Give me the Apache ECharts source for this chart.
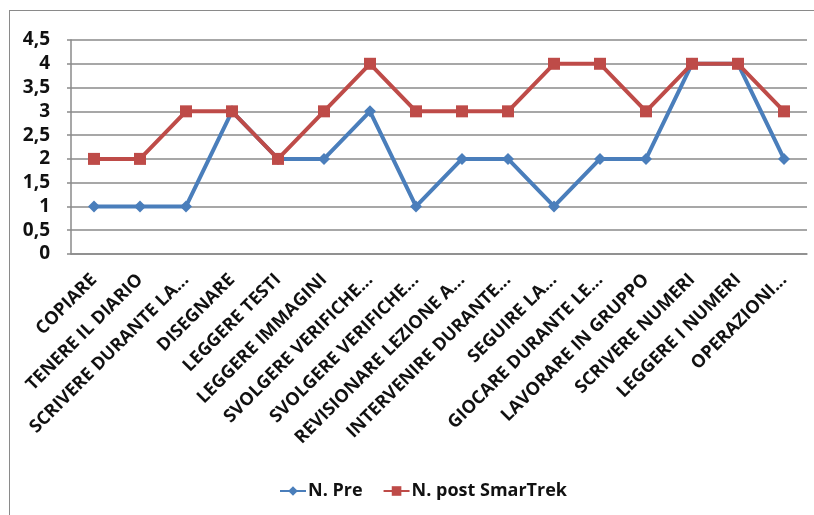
<!DOCTYPE html>
<html>
<head>
<meta charset="utf-8">
<script src="https://cdn.jsdelivr.net/npm/echarts@6/dist/echarts.min.js"></script>
<style>
html,body{margin:0;padding:0;background:#fff;}
#frame{position:absolute;left:9px;top:10px;width:820px;height:520px;border-left:1.5px solid #8a8a8a;border-top:1.5px solid #8a8a8a;}
#chart{position:absolute;left:0;top:0;width:814px;height:515px;}
</style>
</head>
<body>
<div id="frame"></div>
<div id="chart"></div>
<script>
const categories = ["COPIARE","TENERE IL DIARIO","SCRIVERE DURANTE LA...","DISEGNARE","LEGGERE TESTI","LEGGERE IMMAGINI","SVOLGERE VERIFICHE...","SVOLGERE VERIFICHE...","REVISIONARE LEZIONE A...","INTERVENIRE DURANTE...","SEGUIRE LA...","GIOCARE DURANTE LE...","LAVORARE IN GRUPPO","SCRIVERE NUMERI","LEGGERE I NUMERI","OPERAZIONI..."];
const preValues = [1,1,1,3,2,2,3,1,2,2,1,2,2,4,4,2];
const postValues = [2,2,3,3,2,3,4,3,3,3,4,4,3,4,4,3];
const seriesNames = ["N. Pre","N. post SmarTrek"];

const chart = echarts.init(document.getElementById('chart'), null, {renderer:'canvas'});
const font = '"Open Sans", sans-serif';
chart.setOption({
  animation:false,
  backgroundColor:'transparent',
  grid:{left:71,right:7,top:40,bottom:261,containLabel:false},
  legend:{
    bottom:10,left:274,
    itemWidth:26,itemHeight:12,itemGap:20,
    textStyle:{fontFamily:font,fontWeight:'bold',fontSize:18,color:'#111',padding:[0,0,0,-3]},
    data:seriesNames
  },
  xAxis:{
    type:'category',data:categories,boundaryGap:true,
    axisLine:{show:true,lineStyle:{color:'#8a8a8a',width:1.5}},
    axisTick:{show:false},
    axisLabel:{interval:0,rotate:45,margin:23,fontFamily:font,fontWeight:'bold',fontSize:18,color:'#111'}
  },
  yAxis:{
    type:'value',min:0,max:4.5,interval:0.5,
    axisLine:{show:true,lineStyle:{color:'#8a8a8a',width:1.5}},
    axisTick:{show:true,length:4,lineStyle:{color:'#8a8a8a',width:1.5}},
    splitLine:{show:true,lineStyle:{color:'#8a8a8a',width:1.5}},
    axisLabel:{margin:21,fontFamily:font,fontWeight:'bold',fontSize:19,color:'#111',
      formatter:v=>String(v).replace('.',',')}
  },
  series:[
    {name:seriesNames[0],type:'line',data:preValues,symbol:'diamond',symbolSize:12,
     lineStyle:{color:'#4A7EBB',width:4},itemStyle:{color:'#4A7EBB'},z:2},
    {name:seriesNames[1],type:'line',data:postValues,symbol:'rect',symbolSize:12,
     lineStyle:{color:'#BE4B48',width:4},itemStyle:{color:'#BE4B48'},z:3}
  ]
});
</script>
</body>
</html>
